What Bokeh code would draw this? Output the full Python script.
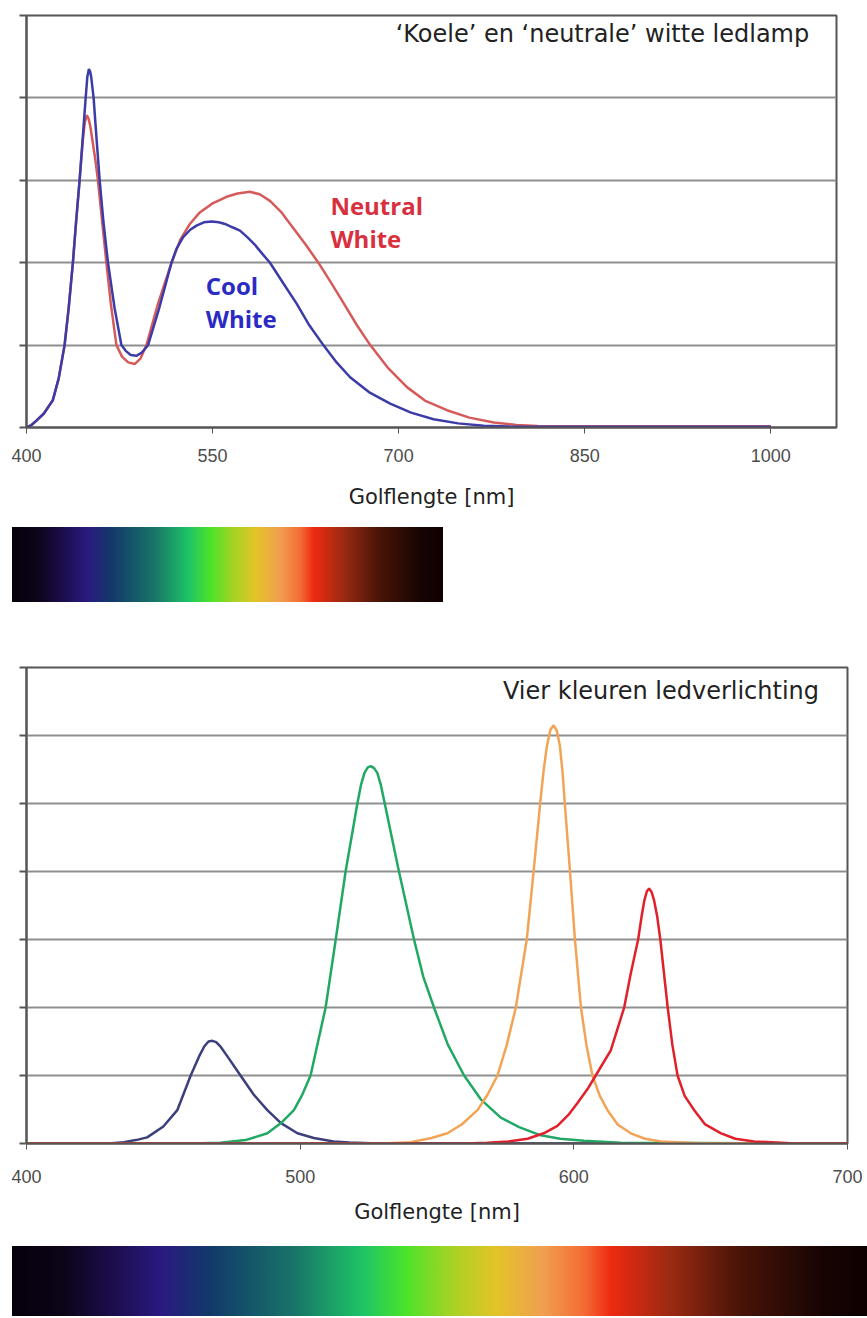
from bokeh.plotting import figure
from bokeh.layouts import column
from bokeh.models import Range1d, FixedTicker, Label, CustomJSTickFormatter, Div
from bokeh.embed import file_html
from bokeh.resources import INLINE

# ---------------- data: top chart ----------------
top_title = "\u2018Koele\u2019 en \u2018neutrale\u2019 witte ledlamp"
top_ticks = [400, 550, 700, 850, 1000]
top_wl_cool = [400, 404, 407.8, 414, 421.2, 426, 430.7, 434, 437.4, 440, 442.8, 445.5, 447.7, 449,
               450.3, 451.3, 452.2, 454.1, 456.5, 459.0, 462, 465.7, 471, 476.5, 480, 484, 488.6,
               493, 498.0, 507, 516.9, 521, 526.3, 532, 537, 543, 549.2, 555, 560, 566, 572.1,
               578, 584, 590, 596.3, 607, 617.9, 628, 639.3, 650, 660.9, 676, 693.2, 710, 728.2,
               748, 768.6, 790, 810, 900, 1000]
top_cool = [0.0, 0.03, 0.08, 0.17, 0.33, 0.6, 1.0, 1.45, 2.0, 2.5, 3.0, 3.55, 4.0, 4.25,
            4.35, 4.32, 4.25, 4.0, 3.5, 3.0, 2.5, 2.0, 1.45, 1.0, 0.93, 0.88, 0.87,
            0.91, 1.0, 1.45, 2.0, 2.17, 2.31, 2.4, 2.45, 2.49, 2.5, 2.49, 2.47, 2.43, 2.39,
            2.31, 2.22, 2.11, 2.0, 1.75, 1.5, 1.24, 1.0, 0.79, 0.61, 0.43, 0.29, 0.18, 0.1,
            0.05, 0.02, 0.012, 0.01, 0.01, 0.01]
top_wl_neutral = [400, 404, 407.8, 414, 421.2, 426, 430.7, 434, 437.4, 440, 442.8, 445.5, 447,
                  448.7, 450.2, 451.5, 453.5, 455.5, 457.6, 461, 464.4, 468, 472.5, 477, 482,
                  487.2, 492, 496.7, 506, 516.9, 524, 531.7, 539.7, 550, 561.3, 570, 580.1,
                  588, 596.3, 605, 615, 625, 635.3, 645, 656, 666, 677.1, 691, 706.7, 722,
                  739, 757, 776.7, 795, 812, 900, 1000]
top_neutral = [0.0, 0.03, 0.08, 0.17, 0.33, 0.6, 1.0, 1.45, 2.0, 2.5, 3.0, 3.5, 3.7,
               3.79, 3.74, 3.65, 3.45, 3.25, 3.0, 2.5, 2.0, 1.5, 1.0, 0.86, 0.79,
               0.77, 0.84, 1.0, 1.5, 2.0, 2.28, 2.47, 2.61, 2.72, 2.8, 2.84, 2.86,
               2.83, 2.75, 2.62, 2.42, 2.22, 2.0, 1.77, 1.5, 1.25, 1.0, 0.73, 0.49, 0.32,
               0.21, 0.12, 0.06, 0.03, 0.018, 0.015, 0.015]

# ---------------- data: bottom chart ----------------
bot_title = "Vier kleuren ledverlichting"
bot_ticks = [400, 500, 600, 700]
wl_blue = [400, 430, 435.5, 440, 444.1, 450, 455.1, 460.0, 463.3, 465, 466.5, 467.9, 469.3, 471,
           473.1, 478.2, 483, 488.0, 493, 499.0, 505, 512.2, 518, 525.8, 540, 700]
val_blue = [0, 0, 0.02, 0.05, 0.09, 0.25, 0.49, 1.0, 1.3, 1.43, 1.5, 1.51, 1.49, 1.42,
            1.3, 1.0, 0.72, 0.49, 0.3, 0.15, 0.08, 0.03, 0.015, 0.005, 0, 0]
wl_green = [400, 460, 470.9, 480, 488.0, 493, 497.7, 500.8, 503.8, 509.3, 513.0, 516.6, 520.9,
            522.2, 523.5, 524.7, 525.8, 527, 528.2, 529.5, 530.9, 536.1, 541.6, 545, 548.9,
            554, 559.9, 566, 573.3, 580, 587.9, 595, 603.7, 617, 700]
val_green = [0, 0, 0.01, 0.05, 0.15, 0.3, 0.49, 0.72, 1.0, 2.0, 3.0, 4.0, 5.0,
             5.27, 5.45, 5.53, 5.55, 5.52, 5.45, 5.27, 5.0, 4.0, 3.0, 2.45, 2.0,
             1.45, 1.0, 0.65, 0.38, 0.24, 0.12, 0.07, 0.04, 0.01, 0]
wl_orange = [400, 530, 540.4, 548, 553.8, 559, 564.8, 568.5, 572.1, 575.5, 578.8, 582.8, 585.3,
             587.7, 589, 590.2, 591.4, 592.6, 593.8, 594.9, 595.9, 596.7, 598.6, 600.4, 602.6,
             604.6, 606.8, 609.5, 612.3, 616, 620.8, 626, 631.8, 646, 700]
val_orange = [0, 0, 0.02, 0.08, 0.15, 0.28, 0.49, 0.72, 1.0, 1.45, 2.0, 3.0, 4.0,
              5.0, 5.5, 5.85, 6.08, 6.15, 6.07, 5.85, 5.45, 5.0, 4.0, 3.0, 2.0,
              1.45, 1.0, 0.7, 0.49, 0.28, 0.15, 0.07, 0.03, 0.005, 0]
wl_red = [400, 560, 568.4, 576, 583.1, 589, 594.0, 598, 601.4, 605, 608.0, 613.5, 618.4, 620.8,
          623.5, 624.8, 625.8, 626.7, 627.5, 628.4, 629.3, 630.5, 631.6, 634.3, 636, 637.9,
          640.5, 644.0, 648, 653.8, 659, 665.9, 679.3, 700]
val_red = [0, 0, 0.01, 0.03, 0.07, 0.15, 0.26, 0.42, 0.6, 0.8, 1.0, 1.37, 2.0, 2.5,
           3.0, 3.35, 3.58, 3.71, 3.75, 3.7, 3.58, 3.33, 3.0, 2.0, 1.45, 1.0,
           0.7, 0.49, 0.28, 0.15, 0.07, 0.03, 0.005, 0]

x_label = "Golflengte [nm]"

# spectrum strip colour stops (fraction along strip, colour)
spec_pos = [0.0, 0.06, 0.115, 0.175, 0.23, 0.33, 0.41, 0.46, 0.515, 0.565, 0.62, 0.67, 0.70,
            0.77, 0.85, 0.95, 1.0]
spec_col = ["#06000c", "#0c0418", "#1c0c4a", "#2a1a80", "#12386a", "#187468", "#1ec466",
            "#4ae32a", "#a8d224", "#e2c426", "#f0a050", "#f46a34", "#ee2a10", "#9a2a12",
            "#4a1408", "#160402", "#0e0000"]

FRAME = "#555555"
GRID = "#8f8f8f"


def spectrum_div(width, height, margin):
    stops = ", ".join("%s %.1f%%" % (c, 100 * f) for f, c in zip(spec_pos, spec_col))
    html = ('<div style="width:%dpx;height:%dpx;background:linear-gradient(to right, %s);"></div>'
            % (width, height, stops))
    return Div(text=html, width=width, height=height, margin=margin)


def style_chart(p, xticks, yticks, label_standoff, title_standoff):
    p.outline_line_color = FRAME
    p.outline_line_width = 2
    p.xgrid.visible = False
    p.ygrid.ticker = FixedTicker(ticks=yticks[1:])
    p.ygrid.grid_line_color = GRID
    p.ygrid.grid_line_width = 2
    xa = p.xaxis[0]
    xa.ticker = FixedTicker(ticks=xticks)
    xa.axis_line_color = FRAME
    xa.axis_line_width = 2
    xa.major_tick_line_color = FRAME
    xa.major_tick_line_width = 1
    xa.major_tick_out = 6
    xa.major_tick_in = 0
    xa.minor_tick_line_color = None
    xa.major_label_text_font = "Liberation Sans"
    xa.major_label_text_font_size = "18px"
    xa.major_label_text_color = "#4d4d4d"
    xa.major_label_standoff = label_standoff
    xa.axis_label = x_label
    xa.axis_label_text_font = "DejaVu Sans"
    xa.axis_label_text_font_size = "21px"
    xa.axis_label_text_font_style = "normal"
    xa.axis_label_text_color = "#222222"
    xa.axis_label_standoff = title_standoff
    ya = p.yaxis[0]
    ya.ticker = FixedTicker(ticks=yticks)
    ya.formatter = CustomJSTickFormatter(code="return ''")
    ya.axis_line_color = FRAME
    ya.axis_line_width = 2
    ya.major_tick_line_color = FRAME
    ya.major_tick_line_width = 2
    ya.major_tick_out = 7
    ya.major_tick_in = 0
    ya.minor_tick_line_color = None
    ya.major_label_standoff = 0


# ---------------- top chart ----------------
p1 = figure(width=856, height=520, x_range=Range1d(400, 1053), y_range=Range1d(0, 5),
            toolbar_location=None, output_backend="svg",
            min_border_left=26, min_border_right=20, min_border_top=15, min_border_bottom=93)
style_chart(p1, top_ticks, [0, 1, 2, 3, 4, 5], 15, 20)
p1.line(top_wl_neutral, top_neutral, line_color="#d65a5a", line_width=2.5)
p1.line(top_wl_cool, top_cool, line_color="#3c3ca8", line_width=2.5)
p1.add_layout(Label(x=1031, y=4.78, text=top_title, text_align="right", text_baseline="middle",
                    text_font="DejaVu Sans", text_font_size="24px", text_color="#222222"))
for txt, yy in (("Neutral", 2.69), ("White", 2.29)):
    p1.add_layout(Label(x=645, y=yy, text=txt, text_align="left", text_baseline="middle",
                        text_font="Open Sans", text_font_size="24px", text_font_style="bold",
                        text_color="#d8303e"))
for txt, yy in (("Cool", 1.72), ("White", 1.32)):
    p1.add_layout(Label(x=544.5, y=yy, text=txt, text_align="left", text_baseline="middle",
                        text_font="Open Sans", text_font_size="24px", text_font_style="bold",
                        text_color="#2b2bc4"))

s1 = spectrum_div(431, 75, (7, 0, 8, 12))

# ---------------- bottom chart ----------------
p2 = figure(width=867, height=628, x_range=Range1d(400, 700), y_range=Range1d(0, 7),
            toolbar_location=None, output_backend="svg",
            min_border_left=26, min_border_right=20, min_border_top=57, min_border_bottom=95)
style_chart(p2, bot_ticks, [0, 1, 2, 3, 4, 5, 6, 7], 20, 14)
p2.line(wl_blue, val_blue, line_color="#3b3f7a", line_width=2.5)
p2.line(wl_green, val_green, line_color="#22a865", line_width=2.5)
p2.line(wl_orange, val_orange, line_color="#f2a456", line_width=2.5)
p2.line(wl_red, val_red, line_color="#e0202a", line_width=2.5)
p2.add_layout(Label(x=689.6, y=6.66, text=bot_title, text_align="right", text_baseline="middle",
                    text_font="DejaVu Sans", text_font_size="24px", text_color="#222222"))

s2 = spectrum_div(855, 70, (8, 0, 0, 12))

layout = column(p1, s1, p2, s2, spacing=0)
open("out.html", "w").write(file_html(layout, INLINE))
